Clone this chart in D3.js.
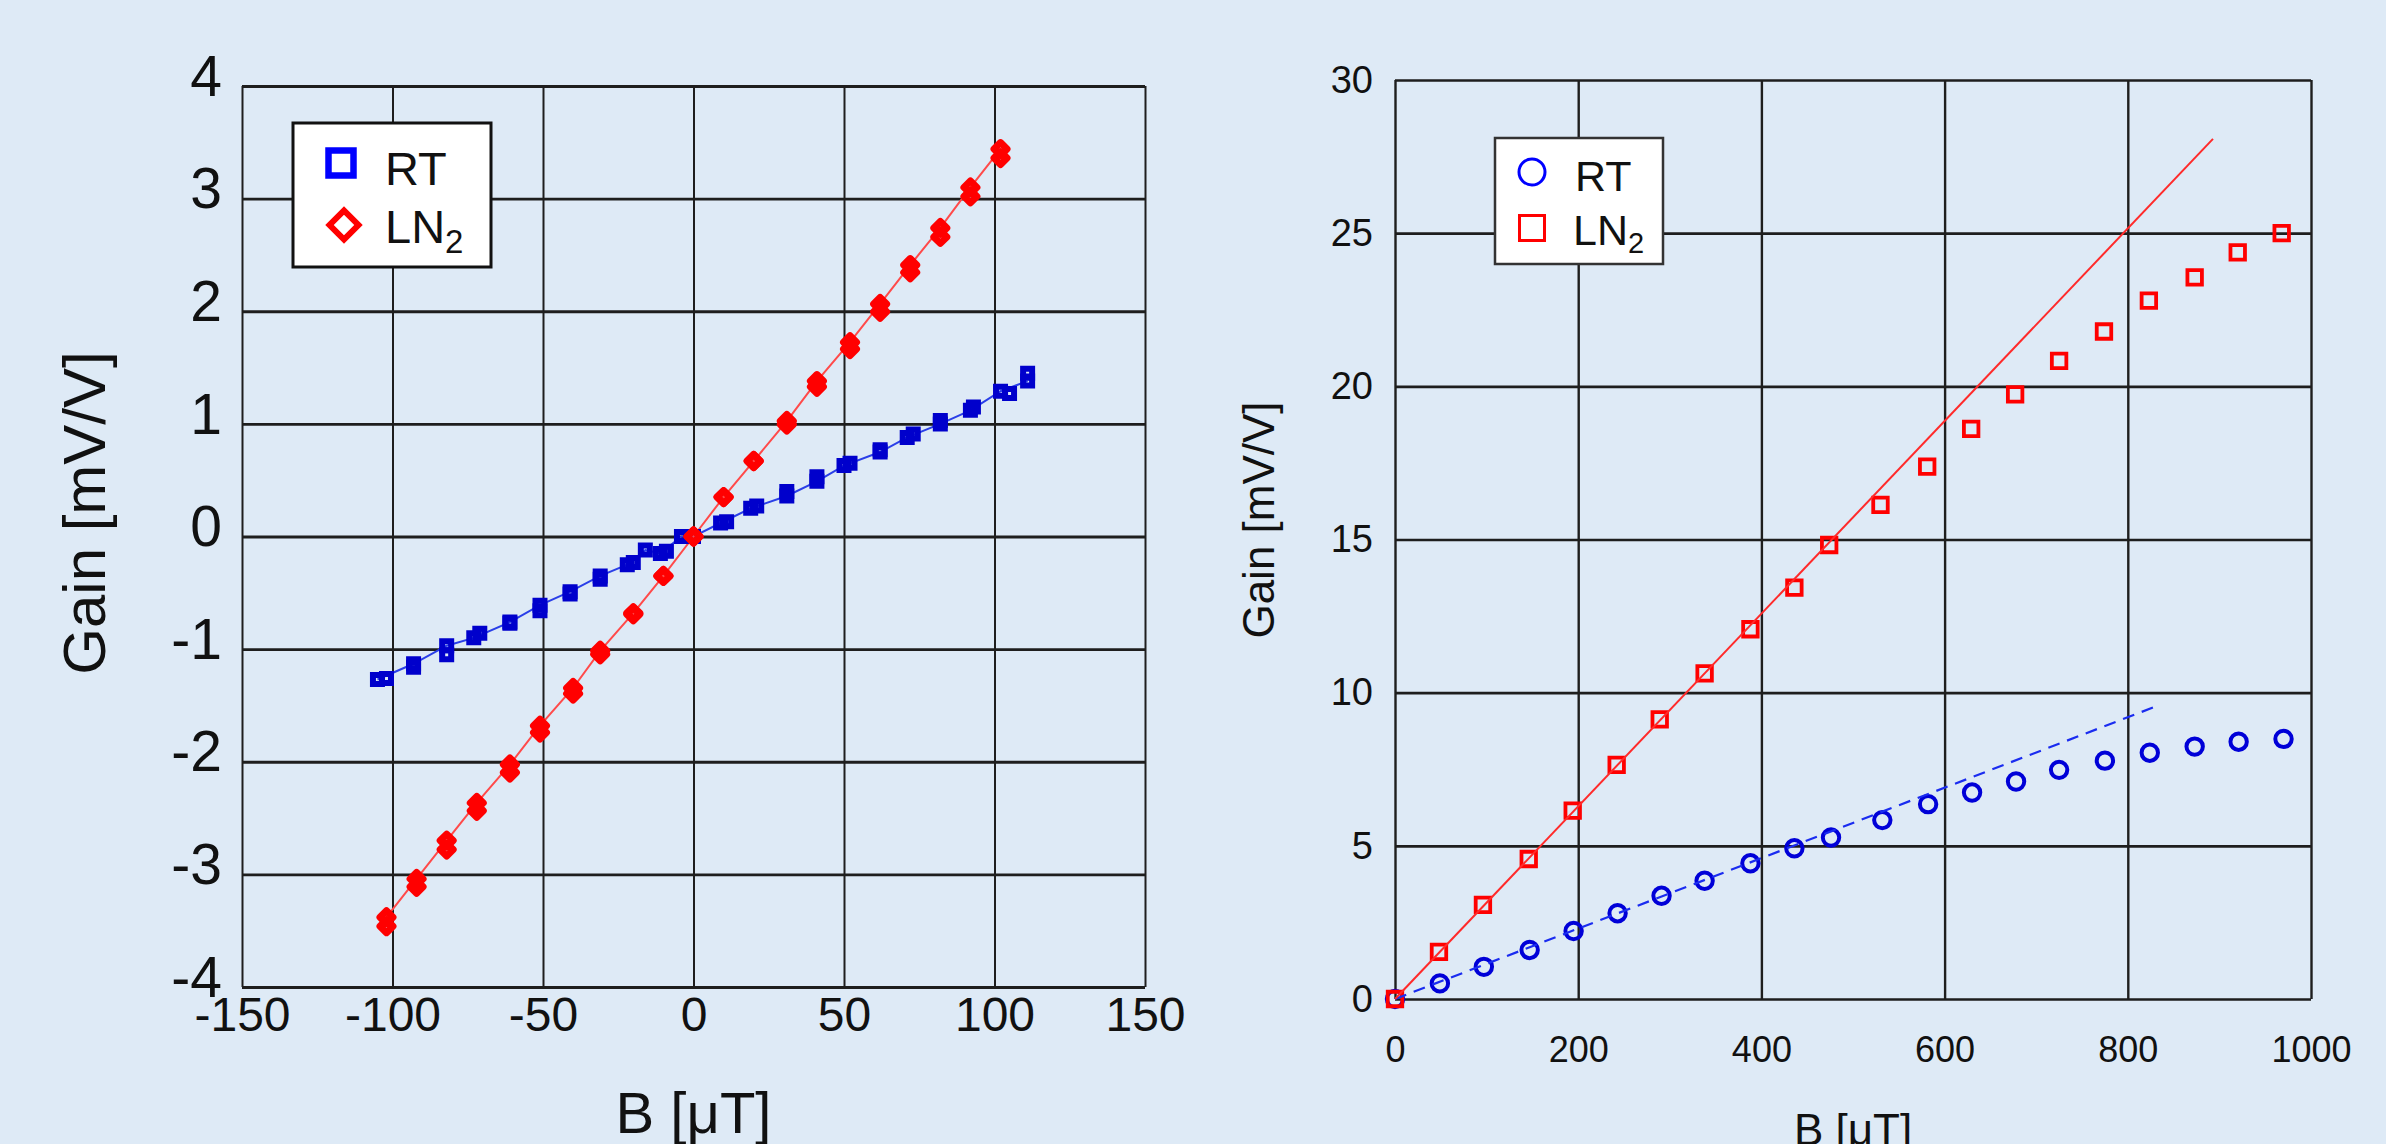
<!DOCTYPE html>
<html>
<head>
<meta charset="utf-8">
<script src="https://cdn.jsdelivr.net/npm/d3@7"></script>
<style>
  html, body { margin: 0; padding: 0; background: #deeaf6; }
  svg { display: block; }
  text { font-family: "Liberation Sans", Arial, sans-serif; fill: #111; }
</style>
</head>
<body>
<svg id="chart" width="2386" height="1144"></svg>
<script>
// ---------- Left panel data (B in µT, Gain in mV/V) ----------
const leftXTicks = [-150, -100, -50, 0, 50, 100, 150];
const leftYTicks = [-4, -3, -2, -1, 0, 1, 2, 3, 4];

const rtUpB      = [-105, -93, -82, -73, -61, -51, -41, -31, -22, -16, -11, -4, 0, 9, 19, 31, 41, 50, 62, 71, 82, 92, 102, 111];
const rtUpGain   = [-1.27, -1.13, -0.97, -0.90, -0.76, -0.61, -0.49, -0.35, -0.25, -0.12, -0.15, 0.00, 0.00, 0.12, 0.25, 0.36, 0.49, 0.63, 0.75, 0.88, 1.00, 1.12, 1.29, 1.38];
const rtDownB    = [-102, -93, -82, -71, -61, -51, -41, -31, -20, -9, 0, 11, 21, 31, 41, 52, 62, 73, 82, 93, 105, 111];
const rtDownGain = [-1.26, -1.16, -1.05, -0.86, -0.77, -0.66, -0.51, -0.38, -0.23, -0.13, 0.00, 0.13, 0.27, 0.40, 0.53, 0.65, 0.77, 0.91, 1.03, 1.15, 1.27, 1.45];

const ln2B        = [-102, -92, -82, -72, -61, -51, -40, -31, -20, -10, 0, 10, 20, 31, 41, 52, 62, 72, 82, 92, 102];
const ln2UpGain   = [-3.38, -3.04, -2.70, -2.365, -2.025, -1.68, -1.345, -1.015, -0.68, -0.35, 0, 0.35, 0.67, 1.025, 1.38, 1.725, 2.065, 2.41, 2.74, 3.10, 3.44];
const ln2DownGain = [-3.46, -3.11, -2.78, -2.435, -2.095, -1.74, -1.395, -1.045, -0.69, -0.35, 0, 0.35, 0.67, 0.995, 1.33, 1.665, 1.995, 2.345, 2.66, 3.02, 3.36];

// ---------- Right panel data ----------
const rightXTicks = [0, 200, 400, 600, 800, 1000];
const rightYTicks = [0, 5, 10, 15, 20, 25, 30];

const rtB2     = [0, 49, 97, 147, 195, 243, 291, 338, 388, 436, 476, 532, 582, 630, 678, 725, 775, 824, 873, 921, 970];
const rtGain2  = [0, 0.51, 1.05, 1.60, 2.22, 2.80, 3.37, 3.86, 4.43, 4.92, 5.27, 5.84, 6.36, 6.74, 7.10, 7.48, 7.78, 8.04, 8.24, 8.40, 8.49];
const ln2B2    = [0, 48, 96, 146, 194, 242, 289, 338, 388, 436, 474, 530, 581, 629, 677, 725, 774, 823, 873, 920, 968];
const ln2Gain2 = [0, 1.54, 3.07, 4.57, 6.15, 7.64, 9.13, 10.63, 12.07, 13.43, 14.82, 16.13, 17.38, 18.61, 19.74, 20.83, 21.79, 22.80, 23.56, 24.37, 25.00];

const rtFitB     = [0, 835];
const rtFitGain  = [0, 9.6];
const ln2FitB    = [0, 893];
const ln2FitGain = [0, 28.08];

const seriesNames = ["RT", "LN", "2"];
const axisLabelX = "B [\u03BCT]";
const axisLabelY = "Gain [mV/V]";

// ---------- Drawing ----------
const svg = d3.select("#chart");
const zip = (xs, ys) => xs.map((x, i) => [x, ys[i]]);
const plainNum = d => String(d); // hyphen-minus, as in the reference

const gridColor = "#1e1e1e";

function drawPanel(opt) {
  const g = svg.append("g");
  const { x, y } = opt;
  const [x0, x1] = x.range();
  const [y0, y1] = y.range(); // y0 bottom, y1 top

  const ax = g.append("g").attr("transform", `translate(0,${y0})`)
    .call(d3.axisBottom(x).tickValues(opt.xTicks).tickSize(-(y0 - y1)).tickPadding(opt.xPad).tickFormat(plainNum));
  ax.select(".domain").remove();
  ax.selectAll("line").attr("stroke", gridColor).attr("stroke-width", opt.vW);
  ax.selectAll("text").attr("font-size", opt.xFont).attr("fill", "#111")
    .attr("font-family", "'Liberation Sans', Arial, sans-serif");

  const ay = g.append("g").attr("transform", `translate(${x0},0)`)
    .call(d3.axisLeft(y).tickValues(opt.yTicks).tickSize(-(x1 - x0)).tickPadding(opt.yPad).tickFormat(plainNum));
  ay.select(".domain").remove();
  ay.selectAll("line").attr("stroke", gridColor).attr("stroke-width", opt.hW);
  ay.selectAll("text").attr("font-size", opt.yFont).attr("dy", opt.yDy).attr("fill", "#111")
    .attr("font-family", "'Liberation Sans', Arial, sans-serif");

  g.append("text").attr("x", (x0 + x1) / 2).attr("y", opt.xTitleY)
    .attr("text-anchor", "middle").attr("font-size", opt.titleFontX).text(axisLabelX);
  g.append("text").attr("transform", `translate(${opt.yTitleX},${opt.yTitleCY}) rotate(-90)`)
    .attr("text-anchor", "middle").attr("font-size", opt.titleFontY).text(axisLabelY);
  return g;
}

// ===== Left panel =====
const xL = d3.scaleLinear().domain([-150, 150]).range([242, 1145]);
const yL = d3.scaleLinear().domain([-4, 4]).range([987, 86]);

const gL = drawPanel({
  x: xL, y: yL, xTicks: leftXTicks, yTicks: leftYTicks,
  xPad: 10, yPad: 20, xFont: 48, yFont: 57, yDy: "0.16em",
  vW: 2, hW: 2.8,
  xTitleY: 1133, titleFontX: 58,
  yTitleX: 105, yTitleCY: 513, titleFontY: 60
});

const lineL = d3.line().x(d => xL(d[0])).y(d => yL(d[1]));
gL.append("path").datum(zip(rtUpB, rtUpGain))
  .attr("d", lineL).attr("fill", "none").attr("stroke", "#2a3fe8").attr("stroke-width", 2);
gL.append("path").datum(zip(ln2B, ln2UpGain))
  .attr("d", lineL).attr("fill", "none").attr("stroke", "#ff4a4a").attr("stroke-width", 2);

const sqSmall = d3.symbol().type(d3.symbolSquare).size(81);
const rtPts = zip(rtUpB, rtUpGain).concat(zip(rtDownB, rtDownGain));
gL.append("g").selectAll("path").data(rtPts).join("path")
  .attr("d", sqSmall)
  .attr("transform", d => `translate(${xL(d[0])},${yL(d[1])})`)
  .attr("fill", "none").attr("stroke", "#0000cc").attr("stroke-width", 6);

const dmSmall = d3.symbol().type(d3.symbolSquare).size(84);
const ln2Pts = zip(ln2B, ln2UpGain).concat(zip(ln2B, ln2DownGain));
gL.append("g").selectAll("path").data(ln2Pts).join("path")
  .attr("d", dmSmall)
  .attr("transform", d => `translate(${xL(d[0])},${yL(d[1])}) rotate(45)`)
  .attr("fill", "none").attr("stroke", "#ff0000").attr("stroke-width", 7)
  .attr("stroke-linejoin", "round");

// left legend
const legL = gL.append("g");
legL.append("rect").attr("x", 293).attr("y", 123).attr("width", 198).attr("height", 144)
  .attr("fill", "#fff").attr("stroke", "#111").attr("stroke-width", 3);
legL.append("path").attr("d", d3.symbol().type(d3.symbolSquare).size(625)())
  .attr("transform", "translate(341,163)")
  .attr("fill", "none").attr("stroke", "#0000ff").attr("stroke-width", 6.5);
legL.append("path").attr("d", d3.symbol().type(d3.symbolSquare).size(420)())
  .attr("transform", "translate(344,225) rotate(45)")
  .attr("fill", "none").attr("stroke", "#ff0000").attr("stroke-width", 6);
legL.append("text").attr("x", 385).attr("y", 185).attr("font-size", 47).text(seriesNames[0]);
const lnL = legL.append("text").attr("x", 385).attr("y", 243).attr("font-size", 47);
lnL.append("tspan").text(seriesNames[1]);
lnL.append("tspan").attr("font-size", 33).attr("dy", 10).text(seriesNames[2]);

// ===== Right panel =====
const xR = d3.scaleLinear().domain([0, 1000]).range([1395, 2311]);
const yR = d3.scaleLinear().domain([0, 30]).range([999, 80]);

const gR = drawPanel({
  x: xR, y: yR, xTicks: rightXTicks, yTicks: rightYTicks,
  xPad: 37, yPad: 22, xFont: 36, yFont: 38, yDy: "0.32em",
  vW: 2.4, hW: 2.6,
  xTitleY: 1145, titleFontX: 44,
  yTitleX: 1274, yTitleCY: 520, titleFontY: 44
});

const circ = d3.symbol().type(d3.symbolCircle).size(Math.PI * 8.2 * 8.2);
gR.append("g").selectAll("path").data(zip(rtB2, rtGain2)).join("path")
  .attr("d", circ)
  .attr("transform", d => `translate(${xR(d[0])},${yR(d[1])})`)
  .attr("fill", "none").attr("stroke", "#0000d8").attr("stroke-width", 4);

const sqR = d3.symbol().type(d3.symbolSquare).size(14.5 * 14.5);
gR.append("g").selectAll("path").data(zip(ln2B2, ln2Gain2)).join("path")
  .attr("d", sqR)
  .attr("transform", d => `translate(${xR(d[0])},${yR(d[1])})`)
  .attr("fill", "none").attr("stroke", "#ff0000").attr("stroke-width", 3.8);

const lineR = d3.line().x(d => xR(d[0])).y(d => yR(d[1]));
gR.append("path").datum(zip(rtFitB, rtFitGain))
  .attr("d", lineR).attr("fill", "none").attr("stroke", "#1a2cf0").attr("stroke-width", 2.2)
  .attr("stroke-dasharray", "12,8");
gR.append("path").datum(zip(ln2FitB, ln2FitGain))
  .attr("d", lineR).attr("fill", "none").attr("stroke", "#ff2a2a").attr("stroke-width", 2);

// right legend
const legR = gR.append("g");
legR.append("rect").attr("x", 1495).attr("y", 138).attr("width", 168).attr("height", 126)
  .attr("fill", "#fff").attr("stroke", "#333").attr("stroke-width", 2.5);
legR.append("circle").attr("cx", 1532).attr("cy", 172).attr("r", 13)
  .attr("fill", "none").attr("stroke", "#0000ff").attr("stroke-width", 3);
legR.append("path").attr("d", d3.symbol().type(d3.symbolSquare).size(25 * 25)())
  .attr("transform", "translate(1532,228)")
  .attr("fill", "none").attr("stroke", "#ff0000").attr("stroke-width", 3);
legR.append("text").attr("x", 1575).attr("y", 191).attr("font-size", 43).text(seriesNames[0]);
const lnR = legR.append("text").attr("x", 1573).attr("y", 245).attr("font-size", 43);
lnR.append("tspan").text(seriesNames[1]);
lnR.append("tspan").attr("font-size", 29).attr("dy", 8).text(seriesNames[2]);
</script>
</body>
</html>
